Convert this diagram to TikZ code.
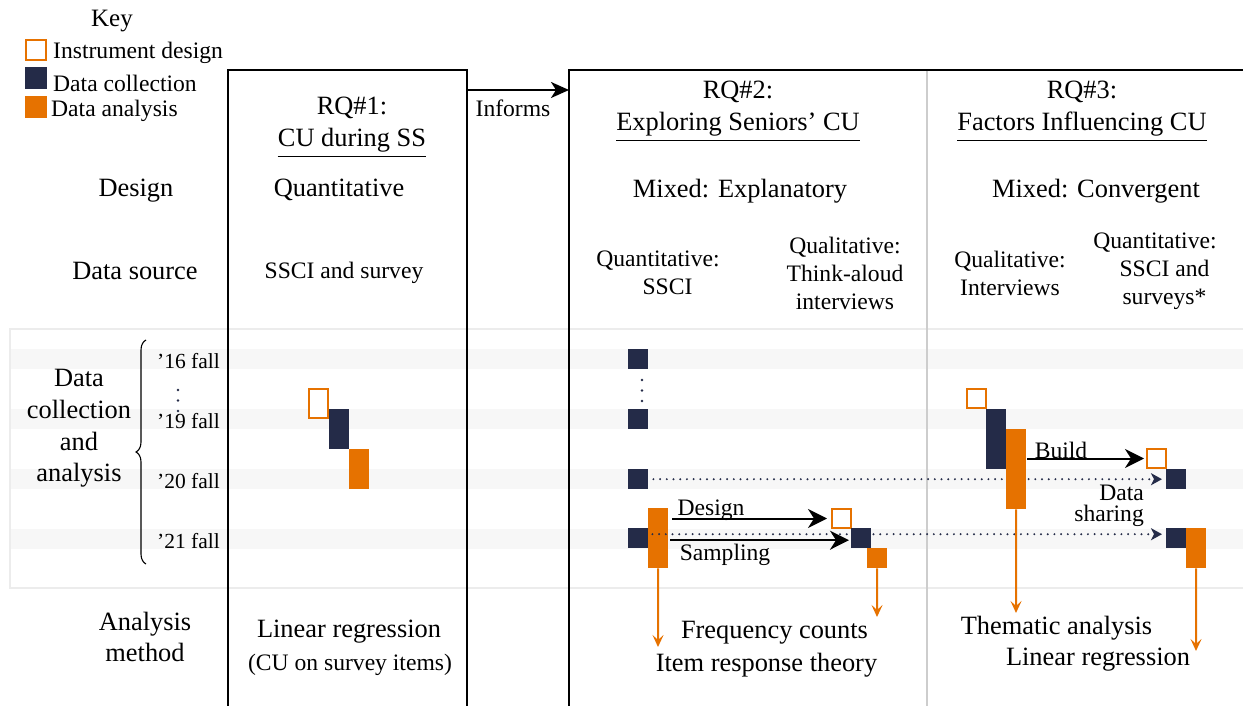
\documentclass[tikz,border=0pt]{standalone}
\usepackage{fontspec}
\setmainfont{Liberation Serif}
\usetikzlibrary{arrows.meta,decorations.pathreplacing}
\definecolor{navy}{HTML}{242B48}
\definecolor{dorange}{HTML}{E67200}
\definecolor{stripe}{HTML}{F7F7F7}
\definecolor{framegray}{HTML}{ECECEC}
\definecolor{divider}{HTML}{CDCDCD}
\newcommand{\bigtxt}{\fontsize{26.4}{31.7}\selectfont}
\newcommand{\smalltxt}{\fontsize{23.6}{28}\selectfont}
\newcommand{\yeartxt}{\fontsize{21.5}{26}\selectfont}
\newcommand{\keytxt}{\fontsize{25}{30}\selectfont}
\begin{document}
\begin{tikzpicture}[x=1pt,y=-1pt,
  big/.style={font=\bigtxt, inner sep=0pt, align=center, yshift=-3pt},
  small/.style={font=\smalltxt, inner sep=0pt, align=center, yshift=-3pt},
  year/.style={font=\yeartxt, inner sep=0pt, anchor=east, yshift=-2pt},
  coll/.style={fill=navy, inner sep=0pt, minimum width=20pt, minimum height=#1, anchor=north west},
  coll/.default=20pt,
  anal/.style={fill=dorange, inner sep=0pt, minimum width=20pt, minimum height=#1, anchor=north west},
  anal/.default=20pt,
  instr/.style={draw=dorange, fill=white, line width=2pt, inner sep=0pt, minimum width=19pt, minimum height=#1},
  instr/.default=19pt,
  rqframe/.style={line width=2pt, black},
  flow/.style={line width=2pt, -{Stealth[length=19pt,width=19pt,inset=6pt]}},
  informs/.style={line width=2pt, -{Stealth[length=18pt,width=16pt,inset=5pt]}},
  result/.style={draw=dorange, line width=2pt, -{Stealth[length=12pt,width=11pt,inset=5pt]}},
  share/.style={navy, line width=2.2pt, line cap=round, dash pattern=on 0pt off 6.7pt,
                -{Stealth[length=11pt,width=12pt,inset=3pt]}},
  ttl/.style={line width=1.3pt}
]
\useasboundingbox (0,0) rectangle (1243,706);
\clip (0,0) rectangle (1243,706);

% timeline panel and year stripes
\draw[framegray, line width=2pt, fill=white] (10,329) rectangle (1260,588);
\foreach \yy in {349,409,469,529}
  \fill[stripe] (11,\yy) rectangle (1243,\yy+20);

% research question frames
\draw[rqframe] (228,720) -- (228,70) -- (467,70) -- (467,720);
\draw[rqframe] (569,720) -- (569,70) -- (1260,70);
\draw[divider, line width=2pt] (927,71) -- (927,720);

% key
\node[font=\keytxt, inner sep=0pt, yshift=-3pt] (key) at (112,18) {Key};
\node[instr=20pt, minimum width=20pt] (kinstr) at (36,50) {};
\node[coll=22pt, minimum width=22pt, anchor=center] (kcoll) at (36,78) {};
\node[anal=22pt, minimum width=22pt, anchor=center] (kanal) at (36,107) {};
\node[small, anchor=west] (kinstrt) at (53,50) {Instrument design};
\node[small, anchor=west] (kcollt) at (53,80) {Data collection};
\node[small, anchor=west] (kanalt) at (51,108) {Data analysis};

% headers
\node[big] (rq1a) at (352,105) {RQ\#1:};
\node[big] (rq1b) at (352,137) {CU during SS};
\draw[ttl] ([yshift=-4pt]rq1b.south west) -- ([yshift=-4pt]rq1b.south east);
\node[big] (rq2a) at (738,89) {RQ\#2:};
\node[big] (rq2b) at (738,121) {Exploring Seniors’ CU};
\draw[ttl] ([yshift=-4pt]rq2b.south west) -- ([yshift=-4pt]rq2b.south east);
\node[big] (rq3a) at (1082,89) {RQ\#3:};
\node[big] (rq3b) at (1082,121) {Factors Influencing CU};
\draw[ttl] ([yshift=-4pt]rq3b.south west) -- ([yshift=-4pt]rq3b.south east);

\coordinate (rq1out) at (468,90);
\coordinate (rq2in) at (569,90);
\draw[informs] (rq1out) -- (rq2in);
\node[small] (inf) at (513,105) {Informs};

% design row
\node[big] (design) at (136,188) {Design};
\node[big] (des1) at (339,187) {Quantitative};
\node[big] (des2) at (740,188) {Mixed: Explanatory};
\node[big] (des3) at (1096,188) {Mixed: Convergent};

% data source row
\node[big] (dsrc) at (135,268) {Data source};
\node[small] (src1) at (344,270) {SSCI and survey};
\node[small] (src2a) at (658,270) {Quantitative:\\\hspace*{19pt}SSCI};
\node[small] (src2b) at (845,270) {Qualitative:\\Think-aloud\\interviews};
\node[small] (src3a) at (1010,270) {Qualitative:\\Interviews};
\node[small] (src3b) at (1155,268) {Quantitative:\\\hspace*{19pt}SSCI and\\\hspace*{19pt}surveys*};

% timeline labels
\node[big] (dca) at (79,425.5) {Data\\collection\\and\\analysis};
\draw[decorate, decoration={brace, amplitude=10pt}, line width=1.1pt] (146,564) -- (146,340);
\node[year] (y16) at (220,359) {’16 fall};
\node[year] (y19) at (220,419) {’19 fall};
\node[year] (y20) at (220,479) {’20 fall};
\node[year] (y21) at (220,539) {’21 fall};
\foreach \yy in {390,400.5,411} \fill[navy] (178,\yy) circle[radius=1.4pt];

% RQ1 timeline
\node[instr=29pt] (i1) at (318.5,403.5) {};
\node[coll=40pt] (c1) at (329,409) {};
\node[anal=40pt] (a1) at (349,449) {};

% RQ2 timeline
\node[coll] (c2a) at (628,349) {};
\node[coll] (c2b) at (628,409) {};
\node[coll] (c2c) at (628,469) {};
\node[coll] (c2d) at (628,528) {};
\foreach \yy in {380,390.5,401} \fill[navy] (642,\yy) circle[radius=1.4pt];
\node[anal=60pt] (a2a) at (648,508) {};

% RQ3 timeline (collection boxes fed by the data sharing links)
\node[coll] (c3b) at (1166,469) {};
\node[coll] (c3c) at (1166,528) {};

% data sharing links
\draw[share, shorten <=5pt, shorten >=4pt] (c2c.east) -- (c3b.west);
\draw[share, shorten <=4pt, shorten >=4pt] ([yshift=4pt]c2d.east) -- ([yshift=4pt]c3c.west);
\node[font=\fontsize{23.6}{20.5}\selectfont, align=right, inner sep=0pt, anchor=east] (sharet) at (1144,506) {Data\\sharing};

% remaining RQ2 and RQ3 blocks
\node[instr] (i2) at (841.5,518.5) {};
\node[coll] (c2e) at (851,528) {};
\node[anal] (a2b) at (867,548) {};
\node[instr] (i3a) at (976.5,398.5) {};
\node[coll=60pt] (c3a) at (986,409) {};
\node[anal=80pt] (a3a) at (1006,429) {};
\node[instr] (i3b) at (1156.5,458.5) {};
\node[anal=40pt] (a3b) at (1186,528) {};

% sequencing arrows
\draw[flow, shorten <=4pt, shorten >=4pt] (a2a.east |- i2.west) -- (i2.west);
\node[small] (dest) at (711,507) {Design};
\draw[flow, shorten <=2pt, shorten >=2pt] ([yshift=-2pt]a2a.east |- c2e.west) -- ([yshift=-2pt]c2e.west);
\node[small] (sampt) at (725,552) {Sampling};
\draw[flow, shorten <=1pt, shorten >=2pt] (a3a.east |- i3b.west) -- (i3b.west);
\node[small] (buildt) at (1061,447) {Build};

% analysis methods
\node[big] (amth) at (145,634) {Analysis\\method};
\node[big] (lr1) at (349,629) {Linear regression};
\node[small] (lr1b) at (350,662) {(CU on survey items)};
\node[big] (fc) at (774.5,630) {Frequency counts};
\node[big] (irt) at (766.5,662) {Item response theory};
\node[big] (them) at (1056.5,625) {Thematic analysis};
\node[big] (lr3) at (1098,657) {Linear regression};

\coordinate (e2a) at (658,647);
\coordinate (e2b) at (877,617);
\coordinate (e3a) at (1016,613);
\coordinate (e3b) at (1196,651);
\draw[result] (a2a.south) -- (e2a);
\draw[result] (a2b.south) -- (e2b);
\draw[result] (a3a.south) -- (e3a);
\draw[result] (a3b.south) -- (e3b);
\end{tikzpicture}
\end{document}
